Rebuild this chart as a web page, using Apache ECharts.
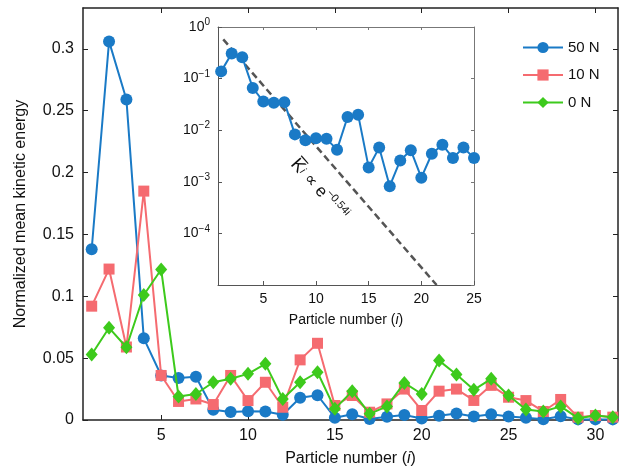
<!DOCTYPE html>
<html><head><meta charset="utf-8">
<script src="https://cdn.jsdelivr.net/npm/echarts@6/dist/echarts.min.js"></script>
<style>html,body{margin:0;padding:0;background:#fff}#c{width:620px;height:474px}</style>
</head><body><div id="c"></div>
<script>
var particles = [1,2,3,4,5,6,7,8,9,10,11,12,13,14,15,16,17,18,19,20,21,22,23,24,25,26,27,28,29,30,31];
var ke50N = [0.138,0.306,0.259,0.066,0.036,0.034,0.035,0.0083,0.0064,0.0070,0.0068,0.0042,0.018,0.020,0.0019,0.0046,0.00082,0.0026,0.0041,0.0012,0.0035,0.0052,0.0029,0.0046,0.0029,0.0018,0.0006,0.003,0.0005,0.0005,0.0005];
var ke10N = [0.092,0.122,0.059,0.185,0.036,0.015,0.017,0.0125,0.036,0.0157,0.0305,0.0103,0.0486,0.062,0.0117,0.0198,0.0063,0.013,0.025,0.0077,0.0233,0.025,0.0158,0.028,0.0184,0.0157,0.0069,0.0166,0.0023,0.0036,0.0023];
var ke0N = [0.053,0.0745,0.0588,0.101,0.1216,0.019,0.021,0.0305,0.0333,0.0373,0.0454,0.017,0.0305,0.0386,0.009,0.0233,0.005,0.011,0.030,0.021,0.048,0.0368,0.0244,0.0333,0.0198,0.0085,0.0069,0.011,0.0015,0.0036,0.0023];
var insetCount = 25;
var fitLine = [[1.2, 0.575],[21.45, 1.0e-5]];
var mainYTicks = [0,0.05,0.1,0.15,0.2,0.25,0.3];
var mainXTicks = [5,10,15,20,25,30];
var insetXTicks = [5,10,15,20,25];
var seriesNames = ['50 N','10 N','0 N'];

var C_BLUE = '#1a7ac6', C_RED = '#f56b70', C_GREEN = '#3dca1c';
var FONT = 'Liberation Sans, Arial, sans-serif';
function pairs(arr, n){ var out=[]; for (var k=0;k<(n||arr.length);k++) out.push([particles[k], arr[k]]); return out; }

var chart = echarts.init(document.getElementById('c'));
var tickMain = {show:true, inside:true, length:5, lineStyle:{color:'#222', width:1}};
var option = {
  animation:false,
  textStyle:{fontFamily:FONT},
  grid:[
    {left:83, top:8, right:2, bottom:54},
    {left:218, top:27, width:256, height:258, show:true, backgroundColor:'#fff', borderWidth:0, z:5}
  ],
  legend:{
    data:seriesNames, orient:'vertical', left:517, top:35, itemWidth:40, itemHeight:14, itemGap:12.5,
    textStyle:{fontSize:15, color:'#111', fontFamily:FONT}
  },
  xAxis:[
    {gridIndex:0, type:'value', min:0.5, max:31.3, position:'bottom',
     axisLine:{lineStyle:{color:'#222', width:1.5}},
     axisTick:Object.assign({customValues:mainXTicks}, tickMain),
     axisLabel:{customValues:mainXTicks, fontSize:16, color:'#111', margin:8},
     splitLine:{show:false},
     name:'Particle number ({it|i})', nameLocation:'middle', nameGap:31,
     nameTextStyle:{fontSize:16, color:'#111', rich:{it:{fontStyle:'italic', fontSize:16, color:'#111'}}}},
    {gridIndex:0, type:'value', min:0.5, max:31.3, position:'top',
     axisLine:{onZero:false, lineStyle:{color:'#222', width:1.5}},
     axisTick:Object.assign({customValues:mainXTicks}, tickMain),
     axisLabel:{show:false}, splitLine:{show:false}},
    {gridIndex:1, type:'value', min:0.7, max:25, position:'bottom', z:6,
     axisLine:{onZero:false, lineStyle:{color:'#555', width:1}},
     axisTick:{show:true, inside:true, length:4, customValues:insetXTicks, lineStyle:{color:'#555'}},
     axisLabel:{customValues:insetXTicks, fontSize:14, color:'#111', margin:7},
     splitLine:{show:false},
     name:'Particle number ({it|i})', nameLocation:'middle', nameGap:28,
     nameTextStyle:{fontSize:14, color:'#111', rich:{it:{fontStyle:'italic', fontSize:14, color:'#111'}}}},
    {gridIndex:1, type:'value', min:0.7, max:25, position:'top', z:6,
     axisLine:{onZero:false, lineStyle:{color:'#777', width:1}},
     axisTick:{show:true, inside:true, length:3, customValues:insetXTicks, lineStyle:{color:'#777'}},
     axisLabel:{show:false}, splitLine:{show:false}}
  ],
  yAxis:[
    {gridIndex:0, type:'value', min:0, max:0.333, position:'left',
     axisLine:{show:true, lineStyle:{color:'#222', width:1.5}},
     axisTick:Object.assign({customValues:mainYTicks}, tickMain),
     axisLabel:{customValues:mainYTicks, fontSize:16, color:'#111', margin:9},
     splitLine:{show:false},
     name:'Normalized mean kinetic energy', nameLocation:'middle', nameGap:54,
     nameTextStyle:{fontSize:16, color:'#111'}},
    {gridIndex:0, type:'value', min:0, max:0.333, position:'right',
     axisLine:{show:true, lineStyle:{color:'#222', width:1.5}},
     axisTick:Object.assign({customValues:mainYTicks}, tickMain),
     axisLabel:{show:false}, splitLine:{show:false}},
    {gridIndex:1, type:'log', logBase:10, min:1e-5, max:1, position:'left', z:6,
     axisLine:{show:true, lineStyle:{color:'#555', width:1}},
     axisTick:{show:true, inside:true, length:4, lineStyle:{color:'#555'}},
     minorTick:{show:false},
     axisLabel:{fontSize:14, color:'#111', margin:8,
       formatter:function(v){ var e=Math.round(Math.log(v)/Math.LN10); if (e<=-5) return ''; return '{b|10}{s|'+(e===0?'0':'\u2212'+(-e))+'}'; },
       rich:{b:{fontSize:14, color:'#111'}, s:{fontSize:10, color:'#111', padding:[0,0,9,0]}}},
     splitLine:{show:false}},
    {gridIndex:1, type:'log', logBase:10, min:1e-5, max:1, position:'right', z:6,
     axisLine:{show:true, lineStyle:{color:'#777', width:1}},
     axisTick:{show:true, inside:true, length:3, lineStyle:{color:'#777'}},
     axisLabel:{show:false}, splitLine:{show:false}}
  ],
  series:[
    {name:'50 N', type:'line', xAxisIndex:0, yAxisIndex:0, data:pairs(ke50N), symbol:'circle', symbolSize:12,
     lineStyle:{color:C_BLUE, width:2}, itemStyle:{color:C_BLUE}, z:2},
    {name:'10 N', type:'line', xAxisIndex:0, yAxisIndex:0, data:pairs(ke10N), symbol:'rect', symbolSize:11,
     lineStyle:{color:C_RED, width:2}, itemStyle:{color:C_RED}, z:3},
    {name:'0 N', type:'line', xAxisIndex:0, yAxisIndex:0, data:pairs(ke0N), symbol:'diamond', symbolSize:[12,14],
     lineStyle:{color:C_GREEN, width:2}, itemStyle:{color:C_GREEN}, z:4},
    {name:'fit', type:'line', xAxisIndex:2, yAxisIndex:2, data:fitLine, symbol:'none',
     lineStyle:{color:'#555', width:2.5, type:[7,4]}, z:7, silent:true},
    {name:'50 N inset', type:'line', xAxisIndex:2, yAxisIndex:2, data:pairs(ke50N, insetCount), symbol:'circle', symbolSize:12,
     lineStyle:{color:C_BLUE, width:2}, itemStyle:{color:C_BLUE}, z:8}
  ],
  graphic:[
    {type:'text', x:302, y:154, rotation:-0.84, z:20,
     style:{text:'{k|K\u0305}{sub|i}{t| \u221D e}{sup|\u22120.54i}', fill:'#111',
       rich:{k:{fontSize:18, fontFamily:FONT, fill:'#111'}, sub:{fontSize:11, fontStyle:'italic', fill:'#111'},
             t:{fontSize:17, fontFamily:FONT, fill:'#111'}, sup:{fontSize:11, fill:'#111', padding:[0,0,11,0]}}}}
  ]
};
chart.setOption(option);
</script></body></html>
